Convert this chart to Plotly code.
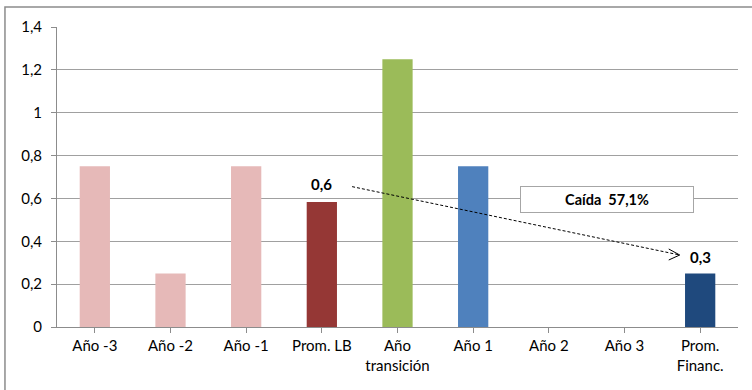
import plotly.graph_objects as go

categories = ["Año -3", "Año -2", "Año -1", "Prom. LB", "Año<br>transición",
              "Año 1", "Año 2", "Año 3", "Prom.<br>Financ."]
values = [0.75, 0.25, 0.75, 0.5833, 1.25, 0.75, 0, 0, 0.25]
colors = ["#E6B9B8", "#E6B9B8", "#E6B9B8", "#953735", "#9BBB59",
          "#4F81BD", "#4F81BD", "#4F81BD", "#1F497D"]
y_ticks = [0, 0.2, 0.4, 0.6, 0.8, 1, 1.2, 1.4]
y_ticklabels = ["0", "0,2", "0,4", "0,6", "0,8", "1", "1,2", "1,4"]
label_lb = "0,6"
label_fin = "0,3"
drop_text = "Caída  57,1%"

FONT = "Lato"

fig = go.Figure()
fig.add_trace(go.Bar(x=list(range(len(categories))), y=values, marker_color=colors,
                     marker_line_width=0, width=0.4, hoverinfo="skip"))

# dashed arrow between the two averages
x0, y0 = 3.4, 0.655
x1, y1 = 7.73, 0.336
fig.add_shape(type="line", x0=x0, y0=y0, x1=x1, y1=y1, xref="x", yref="y",
              line=dict(color="black", width=1, dash="3px,2px"))
for dx, dy in [(-11, 6), (-11, -5)]:
    fig.add_shape(type="line", xsizemode="pixel", ysizemode="pixel",
                  xanchor=x1, yanchor=y1, x0=0, y0=0, x1=dx, y1=dy,
                  xref="x", yref="y", line=dict(color="black", width=1))

fig.add_annotation(x=3, y=values[3], text="<b>" + label_lb + "</b>", showarrow=False,
                   yshift=18, font=dict(family=FONT, size=15, color="black"))
fig.add_annotation(x=8, y=values[8], text="<b>" + label_fin + "</b>", showarrow=False,
                   yshift=16, font=dict(family=FONT, size=15, color="black"))
fig.add_annotation(x=6.77, y=0.597, text="<b>" + drop_text + "</b>", showarrow=False,
                   font=dict(family=FONT, size=14.5, color="black"),
                   bgcolor="white", bordercolor="#A6A6A6", borderwidth=1,
                   width=170, height=23)

# outer chart frame
fig.add_shape(type="rect", xref="paper", yref="paper", x0=-0.0764, x1=1.2,
              y0=-0.4, y1=1.0667, line=dict(color="#8C8C8C", width=1.5),
              fillcolor="rgba(0,0,0,0)", layer="below")

fig.update_layout(
    width=752, height=390,
    margin=dict(l=57, r=14, t=27, b=63),
    paper_bgcolor="white", plot_bgcolor="white",
    showlegend=False,
    separators=",.",
    font=dict(family=FONT, size=15, color="black"),
    xaxis=dict(tickmode="array", tickvals=list(range(len(categories))),
               ticktext=categories, range=[-0.5, 8.5],
               showline=True, linecolor="#8C8C8C", linewidth=1,
               ticks="outside", ticklen=5, tickcolor="#8C8C8C",
               showgrid=False, zeroline=False, tickangle=0),
    yaxis=dict(range=[0, 1.4], tickvals=y_ticks, ticktext=y_ticklabels,
               showline=True, linecolor="#8C8C8C", linewidth=1,
               ticks="outside", ticklen=5, tickcolor="#8C8C8C",
               showgrid=True, gridcolor="#A0A0A0", gridwidth=1,
               zeroline=False, automargin=False, ticklabelstandoff=6),
)
fig.update_xaxes(tickson="boundaries", automargin=False)

fig.write_html("out.html", config={"displayModeBar": False},
               post_script="document.body.style.margin='0';")
